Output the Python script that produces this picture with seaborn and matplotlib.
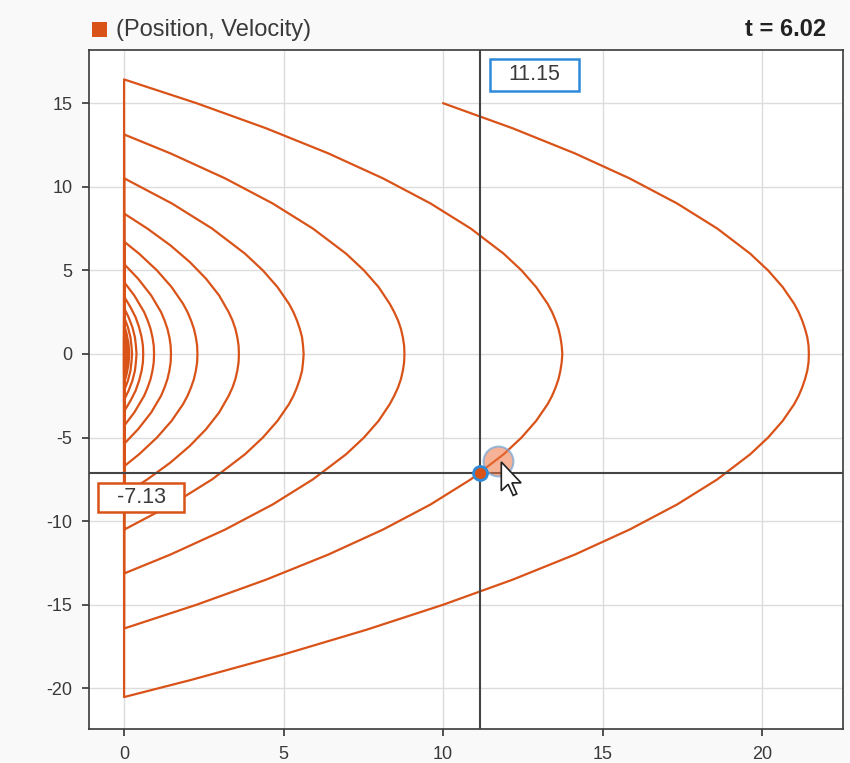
import numpy as np
import pandas as pd
import matplotlib
matplotlib.use("Agg")
import matplotlib.pyplot as plt
import seaborn as sns
from matplotlib.patches import Rectangle, Polygon
from matplotlib.transforms import IdentityTransform

# ---------------- data ----------------
arc0_vel = [15.0, 13.5, 12.0, 10.5, 9.0, 7.5, 6.0, 5.0, 4.0, 3.0, 2.5, 2.0, 1.5, 1.0, 0.5, 0.0,
            -0.5, -1.0, -1.5, -2.0, -2.5, -3.0, -4.0, -5.0, -6.0, -7.5, -9.0, -10.5, -12.0, -13.5,
            -15.0, -16.5, -18.0, -19.5, -20.52]
arc0_pos = [10.00, 12.18, 14.13, 15.85, 17.34, 18.60, 19.63, 20.19, 20.65, 21.01, 21.15, 21.26, 21.35,
            21.42, 21.46, 21.47, 21.46, 21.42, 21.35, 21.26, 21.15, 21.01, 20.65, 20.19, 19.63, 18.60,
            17.34, 15.85, 14.13, 12.18, 10.00, 7.59, 4.95, 2.09, 0.00]
arc1_vel = [16.42, 15.0, 13.5, 12.0, 10.5, 9.0, 7.5, 6.0, 5.0, 4.0, 3.0, 2.5, 2.0, 1.5, 1.0, 0.5, 0.0,
            -0.5, -1.0, -1.5, -2.0, -2.5, -3.0, -4.0, -5.0, -6.0, -7.5, -9.0, -10.5, -12.0, -13.5,
            -15.0, -16.42]
arc1_pos = [0.00, 2.27, 4.45, 6.40, 8.12, 9.61, 10.87, 11.90, 12.46, 12.92, 13.28, 13.42, 13.53, 13.62,
            13.68, 13.72, 13.74, 13.72, 13.68, 13.62, 13.53, 13.42, 13.28, 12.92, 12.46, 11.90, 10.87,
            9.61, 8.12, 6.40, 4.45, 2.27, 0.00]
arc2_vel = [13.13, 12.0, 10.5, 9.0, 7.5, 6.0, 5.0, 4.0, 3.0, 2.5, 2.0, 1.5, 1.0, 0.5, 0.0,
            -0.5, -1.0, -1.5, -2.0, -2.5, -3.0, -4.0, -5.0, -6.0, -7.5, -9.0, -10.5, -12.0, -13.13]
arc2_pos = [0.00, 1.45, 3.17, 4.66, 5.92, 6.96, 7.52, 7.98, 8.33, 8.47, 8.59, 8.68, 8.74, 8.78, 8.79,
            8.78, 8.74, 8.68, 8.59, 8.47, 8.33, 7.98, 7.52, 6.96, 5.92, 4.66, 3.17, 1.45, 0.00]
arc3_vel = [10.51, 9.0, 7.5, 6.0, 5.0, 4.0, 3.0, 2.5, 2.0, 1.5, 1.0, 0.5, 0.0,
            -0.5, -1.0, -1.5, -2.0, -2.5, -3.0, -4.0, -5.0, -6.0, -7.5, -9.0, -10.51]
arc3_pos = [0.00, 1.50, 2.76, 3.79, 4.35, 4.81, 5.17, 5.31, 5.42, 5.51, 5.58, 5.61, 5.63,
            5.61, 5.58, 5.51, 5.42, 5.31, 5.17, 4.81, 4.35, 3.79, 2.76, 1.50, 0.00]
arc4_vel = [8.40, 7.5, 6.5, 5.5, 4.5, 3.5, 2.5, 2.0, 1.5, 1.0, 0.5, 0.0,
            -0.5, -1.0, -1.5, -2.0, -2.5, -3.5, -4.5, -5.5, -6.5, -7.5, -8.40]
arc4_pos = [0.00, 0.73, 1.45, 2.06, 2.57, 2.98, 3.28, 3.40, 3.49, 3.55, 3.59, 3.60,
            3.59, 3.55, 3.49, 3.40, 3.28, 2.98, 2.57, 2.06, 1.45, 0.73, 0.00]
arc5_vel = [6.72, 6.0, 5.0, 4.0, 3.0, 2.5, 2.0, 1.5, 1.0, 0.5, 0.0,
            -0.5, -1.0, -1.5, -2.0, -2.5, -3.0, -4.0, -5.0, -6.0, -6.72]
arc5_pos = [0.00, 0.47, 1.03, 1.49, 1.85, 1.99, 2.10, 2.19, 2.25, 2.29, 2.30,
            2.29, 2.25, 2.19, 2.10, 1.99, 1.85, 1.49, 1.03, 0.47, 0.00]
arc6_vel = [5.38, 4.5, 3.5, 2.5, 2.0, 1.5, 1.0, 0.5, 0.0, -0.5, -1.0, -1.5, -2.0, -2.5, -3.5, -4.5, -5.38]
arc6_pos = [0.00, 0.44, 0.85, 1.16, 1.27, 1.36, 1.42, 1.46, 1.47, 1.46, 1.42, 1.36, 1.27, 1.16, 0.85, 0.44, 0.00]
arc7_vel = [4.30, 3.5, 2.5, 2.0, 1.5, 1.0, 0.5, 0.0, -0.5, -1.0, -1.5, -2.0, -2.5, -3.5, -4.30]
arc7_pos = [0.00, 0.32, 0.63, 0.74, 0.83, 0.89, 0.93, 0.94, 0.93, 0.89, 0.83, 0.74, 0.63, 0.32, 0.00]
arc8_vel = [3.44, 2.8, 2.2, 1.6, 1.0, 0.5, 0.0, -0.5, -1.0, -1.6, -2.2, -2.8, -3.44]
arc8_pos = [0.00, 0.20, 0.36, 0.47, 0.55, 0.59, 0.60, 0.59, 0.55, 0.47, 0.36, 0.20, 0.00]
arc9_vel = [2.75, 2.2, 1.6, 1.0, 0.5, 0.0, -0.5, -1.0, -1.6, -2.2, -2.75]
arc9_pos = [0.00, 0.14, 0.26, 0.34, 0.37, 0.39, 0.37, 0.34, 0.26, 0.14, 0.00]
arc10_vel = [2.20, 1.6, 1.0, 0.5, 0.0, -0.5, -1.0, -1.6, -2.20]
arc10_pos = [0.00, 0.12, 0.20, 0.23, 0.25, 0.23, 0.20, 0.12, 0.00]
arc11_vel = [1.76, 1.2, 0.6, 0.0, -0.6, -1.2, -1.76]
arc11_pos = [0.00, 0.08, 0.14, 0.16, 0.14, 0.08, 0.00]
arc12_vel = [1.41, 0.7, 0.0, -0.7, -1.41]
arc12_pos = [0.00, 0.08, 0.10, 0.08, 0.00]
arc13_vel = [1.13, 0.55, 0.0, -0.55, -1.13]
arc13_pos = [0.00, 0.05, 0.07, 0.05, 0.00]
arc14_vel = [0.90, 0.45, 0.0, -0.45, -0.90]
arc14_pos = [0.00, 0.03, 0.04, 0.03, 0.00]
arc15_vel = [0.72, 0.36, 0.0, -0.36, -0.72]
arc15_pos = [0.00, 0.02, 0.03, 0.02, 0.00]

x_ticks = [0, 5, 10, 15, 20]
y_ticks = [-20, -15, -10, -5, 0, 5, 10, 15]

series_label = "(Position, Velocity)"
time_label = "t = 6.02"
cursor_x = 11.15
cursor_v = -7.13
hover_x = 11.72
hover_v = -6.40

arcs_pos = [arc0_pos, arc1_pos, arc2_pos, arc3_pos, arc4_pos, arc5_pos, arc6_pos, arc7_pos,
            arc8_pos, arc9_pos, arc10_pos, arc11_pos, arc12_pos, arc13_pos, arc14_pos, arc15_pos]
arcs_vel = [arc0_vel, arc1_vel, arc2_vel, arc3_vel, arc4_vel, arc5_vel, arc6_vel, arc7_vel,
            arc8_vel, arc9_vel, arc10_vel, arc11_vel, arc12_vel, arc13_vel, arc14_vel, arc15_vel]
df = pd.DataFrame({
    "Position": [p for arc in arcs_pos for p in arc],
    "Velocity": [v for arc in arcs_vel for v in arc],
})

# ---------------- style ----------------
sns.set_style("white")
plt.rcParams["font.family"] = ["Liberation Sans", "DejaVu Sans"]
plt.rcParams["axes.unicode_minus"] = False

ORANGE = "#D95319"
BLUE = "#2E8AD8"
TXT = "#3a3a3a"
W, H = 850, 763

fig = plt.figure(figsize=(W / 100, H / 100), dpi=100, facecolor="#f9f9f9")
ax = fig.add_axes([89 / W, 1 - 729 / H, 754 / W, 679 / H])
ax.set_facecolor("white")

sns.lineplot(data=df, x="Position", y="Velocity", sort=False, estimator=None,
             color=ORANGE, linewidth=1.6, ax=ax, zorder=3)

ax.set_xlim(-1.1, 22.54)
ax.set_ylim(-22.43, 18.18)
ax.set_xticks(x_ticks)
ax.set_yticks(y_ticks)
ax.set_xlabel("")
ax.set_ylabel("")
ax.grid(True, color="#dcdcdc", linewidth=1.0)
ax.set_axisbelow(True)
for s in ax.spines.values():
    s.set_visible(True)
    s.set_color("#3a3a3a")
    s.set_linewidth(1.2)
ax.tick_params(axis="both", direction="out", length=5, width=1.2, color="#333333",
               labelsize=13, labelcolor=TXT, pad=7, left=True, bottom=True)

# crosshair
ax.axvline(cursor_x, color="#444444", linewidth=1.5, zorder=4)
ax.axhline(cursor_v, color="#444444", linewidth=1.5, zorder=4)

# hover + cursor markers
ax.plot([hover_x], [hover_v], "o", ms=21.5, mfc=(0.93, 0.45, 0.25, 0.55),
        mec=(0.45, 0.65, 0.85, 0.7), mew=1.5, zorder=5)
ax.plot([cursor_x], [cursor_v], "o", ms=10, mfc=ORANGE, mec=BLUE, mew=2.0, zorder=6)

ident = IdentityTransform()
cx_d, cy_d = ax.transData.transform((cursor_x, cursor_v))
hx_d, hy_d = ax.transData.transform((hover_x, hover_v))
ax_left_d, ax_bot_d = ax.transAxes.transform((0, 0))
ax_right_d, ax_top_d = ax.transAxes.transform((1, 1))

# value label boxes
bw, bh = 89, 32
bx, by = cx_d + 10, ax_top_d - 9 - bh
fig.add_artist(Rectangle((bx, by), bw, bh, transform=ident, fc="white", ec=BLUE, lw=1.8, zorder=10))
fig.text(bx + bw / 2, by + bh / 2, f"{cursor_x:.2f}", transform=ident, ha="center", va="center",
         fontsize=15.5, color=TXT, zorder=11)

bw2, bh2 = 86, 29
bx2, by2 = ax_left_d + 9, cy_d - 10 - bh2
fig.add_artist(Rectangle((bx2, by2), bw2, bh2, transform=ident, fc="white", ec=ORANGE, lw=1.8, zorder=10))
fig.text(bx2 + bw2 / 2, by2 + bh2 / 2, f"{cursor_v:.2f}", transform=ident, ha="center", va="center",
         fontsize=15.5, color=TXT, zorder=11)

# mouse pointer
s = 1.8
tipx, tipy = hx_d + 3.4, hy_d - 1.0
shape = [(0, 0), (0, 16), (3.8, 12.4), (6.6, 18.6), (8.6, 17.7), (5.9, 11.6), (11, 11.6)]
pts = [(tipx + s * dx, tipy - s * dy) for dx, dy in shape]
fig.add_artist(Polygon(pts, closed=True, transform=ident, fc="white", ec="#222222", lw=1.2,
                       joinstyle="miter", zorder=12))

# legend + time
fig.add_artist(Rectangle((92, H - 37), 15, 15, transform=ident, fc=ORANGE, ec="none"))
fig.text(116, H - 30, series_label, transform=ident, ha="left", va="center", fontsize=17, color=TXT)
fig.text(826, H - 30, time_label, transform=ident, ha="right", va="center", fontsize=17,
         fontweight="bold", color="#222222")

fig.savefig("out.png", dpi=100, facecolor=fig.get_facecolor())
